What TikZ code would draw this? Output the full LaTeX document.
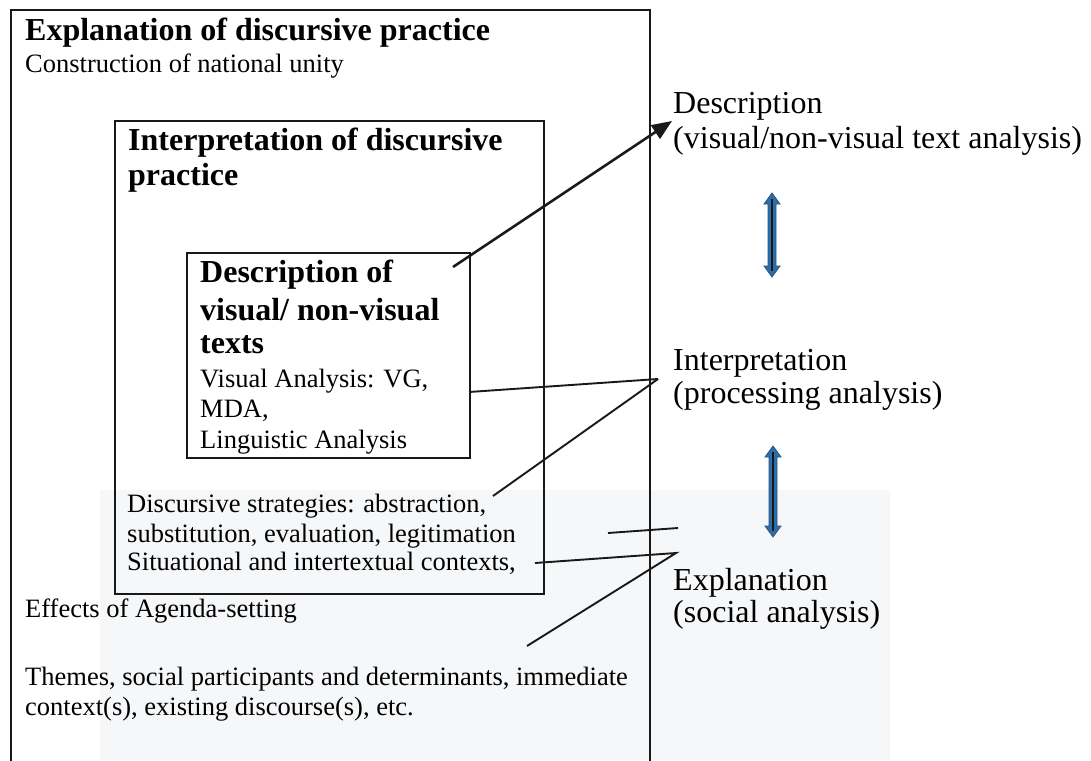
\documentclass[tikz,border=0pt]{standalone}
\usepackage{fontspec}
\setmainfont{Liberation Serif}
\usetikzlibrary{arrows.meta,calc}
\definecolor{arrblue}{HTML}{2E6DA8}
\definecolor{wmbg}{HTML}{F6F7F9}
\tikzset{
  boxframe/.style={draw=black!90, line width=1.9pt, inner sep=0pt, anchor=north west},
  bodytext/.style={anchor=base west, inner sep=0pt, font=\fontsize{26.5}{30}\selectfont},
  headtext/.style={anchor=base west, inner sep=0pt, font=\fontsize{32}{35}\selectfont\bfseries},
  righttext/.style={anchor=base west, inner sep=0pt, font=\fontsize{32}{35}\selectfont},
  connector/.style={draw=black!90, line width=1.9pt},
  mainarrow/.style={draw=black!90, line width=2.6pt, -{Triangle[length=20pt,width=16pt]}},
  dblarrow/.style={fill=arrblue, draw=arrblue!80!black, line width=0.8pt},
  dblcore/.style={draw=black!90, line width=2.8pt}
}
\begin{document}
\begin{tikzpicture}[x=1pt,y=-1pt]
\useasboundingbox (0,0) rectangle (1091,760);
\clip (0,0) rectangle (1091,760);
\fill[white] (0,0) rectangle (1091,760);
% faint background tint of the scanned page
\fill[wmbg] (100,490) rectangle (890,760);

% boxes
\node[boxframe, minimum width=639pt, minimum height=780pt] (outer) at (10,9) {};
\node[boxframe, minimum width=429pt, minimum height=473pt] (inner) at (114,120) {};
\node[boxframe, minimum width=283pt, minimum height=205pt] (desc) at (186,252) {};

% left texts
\node[headtext] (t1) at (25,41) {Explanation of discursive practice};
\node[bodytext] (t2) at (25,73) {Construction of national unity};
\node[headtext] (t3) at (128,150) {Interpretation of discursive};
\node[headtext] (t4) at (128,185) {practice};
\node[headtext] (t5) at (200,282) {Description of};
\node[headtext] (t6) at (200,320) {visual/ non-visual};
\node[headtext] (t7) at (200,353) {texts};
\node[bodytext] (t8) at (200,387) {Visual Analysis: VG,};
\node[bodytext] (t9) at (200,417) {MDA,};
\node[bodytext] (t10) at (200,448) {Linguistic Analysis};
\node[bodytext] (t11) at (127,512) {Discursive strategies: abstraction,};
\node[bodytext] (t12) at (127,542) {substitution, evaluation, legitimation};
\node[bodytext] (t13) at (127,570) {Situational and intertextual contexts,};
\node[bodytext] (t14) at (25,617) {Effects of Agenda-setting};
\node[bodytext] (t15) at (25,685) {Themes, social participants and determinants, immediate};
\node[bodytext] (t16) at (25,715) {context(s), existing discourse(s), etc.};

% right texts
\node[righttext] (r1) at (673,113) {Description};
\node[righttext] (r2) at (673,148) {(visual/non-visual text analysis)};
\node[righttext] (r3) at (673,370) {Interpretation};
\node[righttext] (r4) at (673,403) {(processing analysis)};
\node[righttext] (r5) at (673,590) {Explanation};
\node[righttext] (r6) at (673,622) {(social analysis)};

% connector end points
\coordinate (a1s) at (453,267);
\coordinate (a1e) at (672,121);
\coordinate (c1s) at (469,392);
\coordinate (c2s) at (493,496);
\coordinate (interp) at (658,379);
\coordinate (c3s) at (608,533);
\coordinate (c3e) at (678,528);
\coordinate (c4s) at (535,563);
\coordinate (expl) at (676,553);
\coordinate (c5e) at (527,646);

\draw[mainarrow] (a1s) -- (a1e);
\draw[connector] (c1s) -- (interp);
\draw[connector] (c2s) -- (interp);
\draw[connector] (c3s) -- (c3e);
\draw[connector, line join=miter] (c4s) -- (expl) -- (c5e);

% double arrows
\coordinate (d1t) at (772,193);
\coordinate (d1b) at (772,277);
\coordinate (d2t) at (773,446);
\coordinate (d2b) at (773,537);
\draw[dblarrow] (d1t) -- ++(8,11) -- ++(-4,0) -- ($(d1b)+(4,-11)$) -- ++(4,0) -- (d1b) -- ++(-8,-11) -- ++(4,0) -- ($(d1t)+(-4,11)$) -- ++(-4,0) -- cycle;
\draw[dblcore] ($(d1t)+(0,6)$) -- ($(d1b)+(0,-6)$);
\draw[dblarrow] (d2t) -- ++(8,11) -- ++(-4,0) -- ($(d2b)+(4,-11)$) -- ++(4,0) -- (d2b) -- ++(-8,-11) -- ++(4,0) -- ($(d2t)+(-4,11)$) -- ++(-4,0) -- cycle;
\draw[dblcore] ($(d2t)+(0,6)$) -- ($(d2b)+(0,-6)$);
\end{tikzpicture}
\end{document}
